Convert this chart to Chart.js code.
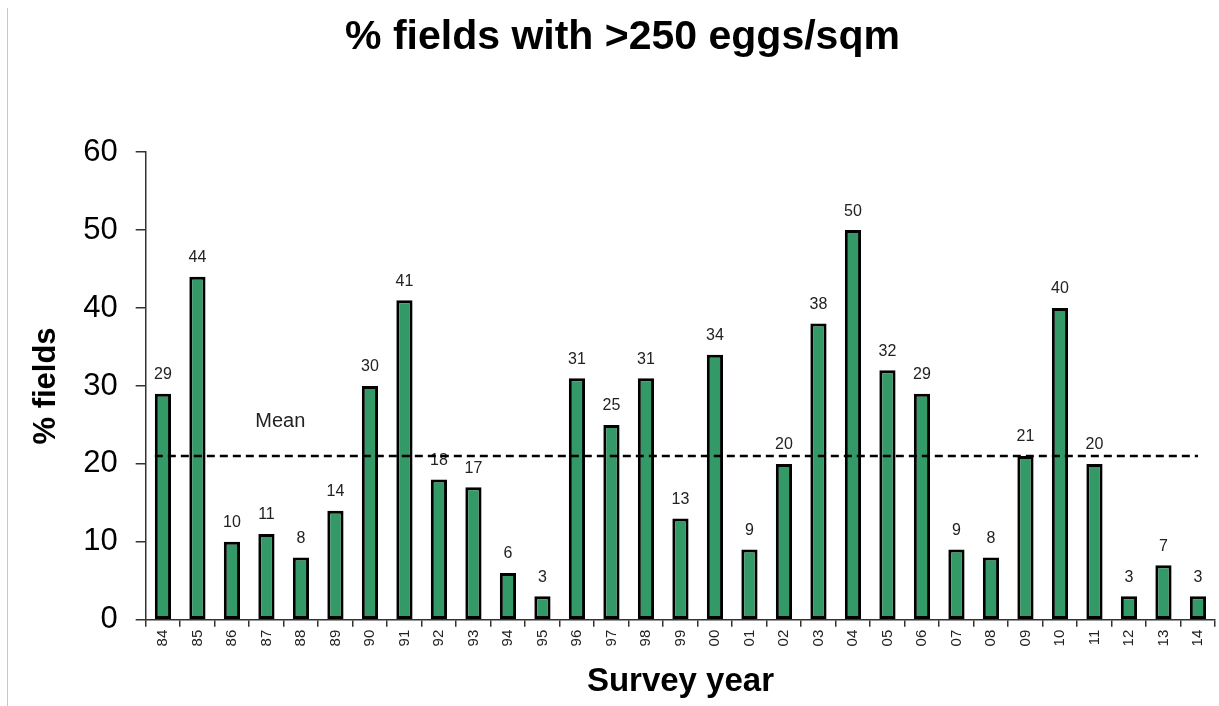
<!DOCTYPE html>
<html>
<head>
<meta charset="utf-8">
<script src="https://cdn.jsdelivr.net/npm/chart.js@4.4.1/dist/chart.umd.min.js"></script>
<style>
  html, body { margin: 0; padding: 0; background: #fff; }
  #wrap { position: relative; width: 1219px; height: 706px; }
  #edge { position: absolute; left: 7px; top: 8px; width: 1px; height: 698px; background: #c8c8c8; }
</style>
</head>
<body>
<div id="wrap">
  <canvas id="myChart" width="1219" height="706"></canvas>
  <div id="edge"></div>
</div>
<script>
const years = ['84', '85', '86', '87', '88', '89', '90', '91', '92', '93', '94', '95', '96', '97', '98', '99',
    '00', '01', '02', '03', '04', '05', '06', '07', '08', '09', '10', '11', '12', '13', '14'];
const pctFields = [29, 44, 10, 11, 8, 14, 30, 41, 18, 17, 6, 3, 31, 25, 31, 13,
    34, 9, 20, 38, 50, 32, 29, 9, 8, 21, 40, 20, 3, 7, 3];
const meanValue = 21;
const meanLabelValue = 25.5;

const fontFamily = '"Liberation Sans", Arial, sans-serif';

// bar value labels, mean line and its label
const extras = {
    id: 'extras',
    afterDatasetsDraw(chart) {
        const ctx = chart.ctx;
        const x = chart.scales.x;
        const y = chart.scales.y;
        const meta = chart.getDatasetMeta(0);

        ctx.save();
        ctx.fillStyle = '#222';
        ctx.font = '16px ' + fontFamily;
        ctx.textAlign = 'center';
        ctx.textBaseline = 'bottom';
        meta.data.forEach((bar, i) => {
            ctx.fillText(String(pctFields[i]), bar.x, bar.y - 11);
        });

        const first = meta.data[0];
        const last = meta.data[meta.data.length - 1];
        const yMean = y.getPixelForValue(meanValue);
        ctx.strokeStyle = '#000';
        ctx.lineWidth = 2.5;
        ctx.setLineDash([8, 5]);
        ctx.beginPath();
        ctx.moveTo(first.x - first.width / 2, yMean);
        ctx.lineTo(last.x, yMean);
        ctx.stroke();
        ctx.setLineDash([]);

        ctx.font = '20px ' + fontFamily;
        ctx.textBaseline = 'middle';
        const x3 = x.getPixelForValue(3);
        const x4 = x.getPixelForValue(4);
        ctx.fillText('Mean', x3 + 0.4 * (x4 - x3), y.getPixelForValue(meanLabelValue));
        ctx.restore();
    }
};

new Chart(document.querySelector('#myChart'), {
    type: 'bar',
    data: {
        labels: years,
        datasets: [{
            data: pctFields,
            backgroundColor: '#339966',
            borderColor: '#000',
            borderWidth: 3,
            borderSkipped: false,
            categoryPercentage: 1,
            barPercentage: 0.47,
        }]
    },
    options: {
        responsive: false,
        animation: false,
        layout: { padding: { left: 28, right: 2, top: 0, bottom: 4 } },
        plugins: {
            legend: { display: false },
            tooltip: { enabled: false },
            title: {
                display: true,
                text: '% fields with >250 eggs/sqm',
                color: '#000',
                font: { family: fontFamily, size: 41, weight: 'bold' },
                padding: { top: 13, bottom: 90 }
            }
        },
        scales: {
            x: {
                offset: true,
                grid: { drawOnChartArea: false, drawTicks: true, tickLength: 7, color: '#333', lineWidth: 1.5 },
                border: { color: '#333', width: 1.5 },
                ticks: {
                    color: '#222',
                    font: { family: fontFamily, size: 15 },
                    minRotation: 90,
                    maxRotation: 90,
                    autoSkip: false,
                    padding: 3
                },
                title: {
                    display: true,
                    text: 'Survey year',
                    color: '#000',
                    font: { family: fontFamily, size: 33, weight: 'bold' },
                    padding: { top: 13, bottom: 0 }
                }
            },
            y: {
                min: 0,
                max: 60,
                grid: { drawOnChartArea: false, drawTicks: true, tickLength: 10, color: '#333', lineWidth: 1.5 },
                border: { color: '#333', width: 1.5 },
                ticks: {
                    stepSize: 10,
                    color: '#000',
                    font: { family: fontFamily, size: 31 },
                    padding: 18
                },
                title: {
                    display: true,
                    text: '% fields',
                    color: '#000',
                    font: { family: fontFamily, size: 31, weight: 'bold' },
                    padding: { top: 0, bottom: 0 }
                }
            }
        }
    },
    plugins: [extras]
});
</script>
</body>
</html>
